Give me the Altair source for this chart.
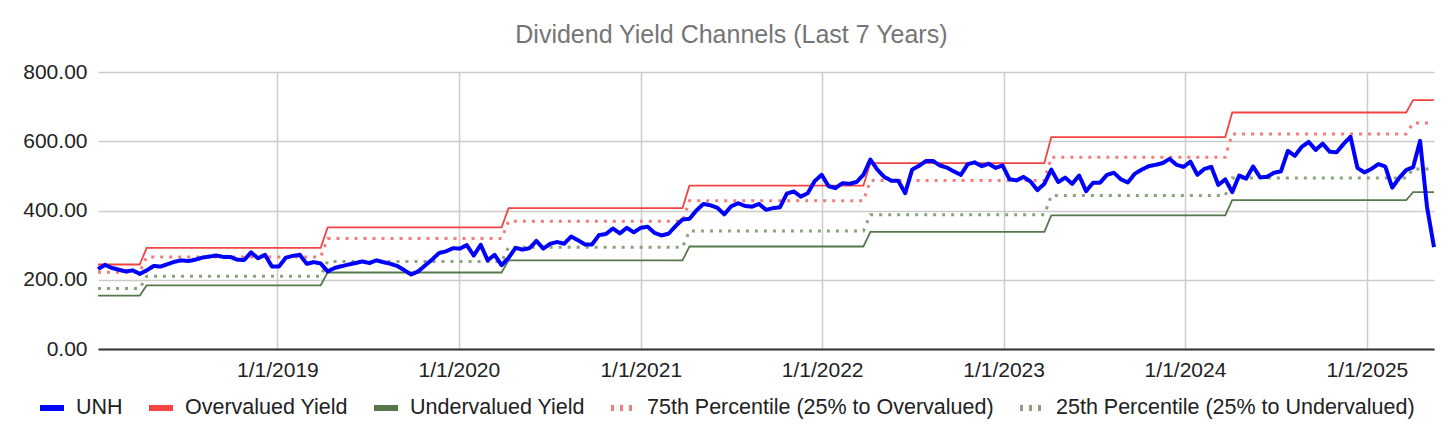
import altair as alt
import numpy as np
import pandas as pd

# ---- data ----
DATE_START = "2018-01-05"   # first bi-weekly observation
DATE_END = "2025-05-16"     # last bi-weekly observation

UNH = [
    231, 243, 234, 229, 224, 227, 217, 227, 240, 238,
    245, 252, 256, 254, 258, 264, 267, 270, 266, 266,
    258, 257, 279, 262, 272, 238, 238, 264, 269, 272,
    246, 251, 247, 224, 234, 239, 244, 248, 253, 248,
    256, 251, 246, 240, 228, 215, 224, 241, 258, 277,
    282, 291, 290, 300, 270, 301, 256, 272, 242, 263,
    292, 287, 291, 312, 290, 304, 309, 304, 325, 314,
    302, 302, 329, 332, 348, 334, 350, 337, 350, 353,
    335, 328, 333, 355, 374, 376, 400, 419, 415, 408,
    389, 412, 421, 413, 411, 419, 402, 407, 409, 449,
    455, 440, 450, 485, 503, 470, 465, 479, 477, 482,
    503, 547, 518, 497, 486, 486, 450, 518, 529, 543,
    543, 530, 524, 513, 503, 534, 539, 528, 535, 523,
    530, 490, 487, 497, 484, 459, 477, 518, 482, 495,
    477, 501, 456, 480, 480, 503, 509, 490, 481, 506,
    518, 528, 532, 537, 549, 532, 526, 541, 503, 520,
    526, 474, 490, 453, 501, 492, 527, 496, 497, 509,
    513, 572, 558, 584, 598, 575, 593, 570, 568, 592,
    613, 523, 510, 520, 534, 527, 466, 494, 517, 525,
    601, 410, 294,
]

# dates on which each channel level takes effect
LEVEL_START = ["2018-01-05", "2018-04-13", "2019-04-12", "2020-04-10",
               "2021-04-09", "2022-04-08", "2023-04-07", "2024-04-05",
               "2025-04-04"]
OVERVALUED = [244, 292, 351, 407, 472, 537, 612, 683, 719]
P75 = [222, 266, 319, 369, 428, 487, 554, 621, 653]
P25 = [175, 210, 253, 294, 341, 388, 443, 494, 520]
UNDERVALUED = [154, 184, 221, 256, 296, 338, 386, 430, 453]

SERIES = ["UNH", "Overvalued Yield", "Undervalued Yield",
          "75th Percentile (25% to Overvalued)",
          "25th Percentile (25% to Undervalued)"]
COLORS = ["#0000ff", "#f44343", "#55784a", "#f27b7b", "#8aa280"]
DASHES = [[1, 0], [1, 0], [1, 0], [3, 6], [3, 6]]
WIDTHS = [4, 1.8, 1.8, 3, 3]
YEAR_TICKS = [2019, 2020, 2021, 2022, 2023, 2024, 2025]

# ---- build table ----
dates = pd.date_range(DATE_START, DATE_END, freq="14D")
assert len(dates) == len(UNH)
seg = np.searchsorted(pd.to_datetime(LEVEL_START).values, dates.values, side="right") - 1

frames = [pd.DataFrame({"date": dates, "value": UNH, "series": SERIES[0]})]
for name, levels in zip(SERIES[1:], [OVERVALUED, UNDERVALUED, P75, P25]):
    frames.append(pd.DataFrame({"date": dates,
                                "value": [levels[s] for s in seg],
                                "series": name}))
df = pd.concat(frames, ignore_index=True)

FONT = "Arial"

x_enc = alt.X(
    "date:T",
    scale=alt.Scale(nice=False, padding=0),
    axis=alt.Axis(
        values=[alt.DateTime(year=y, month=1, date=1) for y in YEAR_TICKS],
        labelExpr="timeFormat(datum.value, '%-m/%-d/%Y')",
        title=None, ticks=False, domain=True, domainColor="#333333",
        domainWidth=2, grid=True, gridColor="#cccccc", gridWidth=1.5,
        labelFontSize=21, labelColor="#222222", labelPadding=10,
        labelFont=FONT,
    ),
)
y_enc = alt.Y(
    "value:Q",
    scale=alt.Scale(domain=[0, 800], nice=False),
    axis=alt.Axis(
        values=[0, 200, 400, 600, 800], format=".2f", title=None,
        ticks=False, domain=False, grid=True, gridColor="#cccccc",
        gridWidth=1.5, labelFontSize=21, labelColor="#222222",
        labelPadding=11, labelFont=FONT,
    ),
)
legend = alt.Legend(
    title=None, orient="none", direction="horizontal",
    legendX=-61, legendY=321, labelFontSize=21.5, labelFont=FONT,
    labelColor="#222222", symbolType="stroke", symbolSize=576,
    symbolStrokeWidth=6, columnPadding=14, labelOffset=9, labelLimit=800,
)
color_enc = alt.Color("series:N", scale=alt.Scale(domain=SERIES, range=COLORS),
                      legend=legend)
dash_enc = alt.StrokeDash("series:N", scale=alt.Scale(domain=SERIES, range=DASHES),
                          legend=legend)

base = alt.Chart(df).encode(x=x_enc, y=y_enc, color=color_enc, strokeDash=dash_enc)

layers = []
# draw channels first, UNH last (on top)
for name, w in list(zip(SERIES, WIDTHS))[1:] + [(SERIES[0], WIDTHS[0])]:
    layers.append(
        base.transform_filter(alt.datum.series == name)
        .mark_line(strokeWidth=w, strokeJoin="round" if name == "UNH" else "miter")
    )

chart = alt.layer(*layers).properties(
    width=1336, height=277,
    title=alt.TitleParams("Dividend Yield Channels (Last 7 Years)",
                          fontSize=25, font=FONT, fontWeight="normal",
                          color="#757575", anchor="middle", frame="bounds",
                          offset=13),
    padding={"left": 14, "top": 15, "right": 5, "bottom": 5},
).configure_view(stroke=None)

chart.save("out.html", embed_options={"renderer": "svg", "actions": False})
